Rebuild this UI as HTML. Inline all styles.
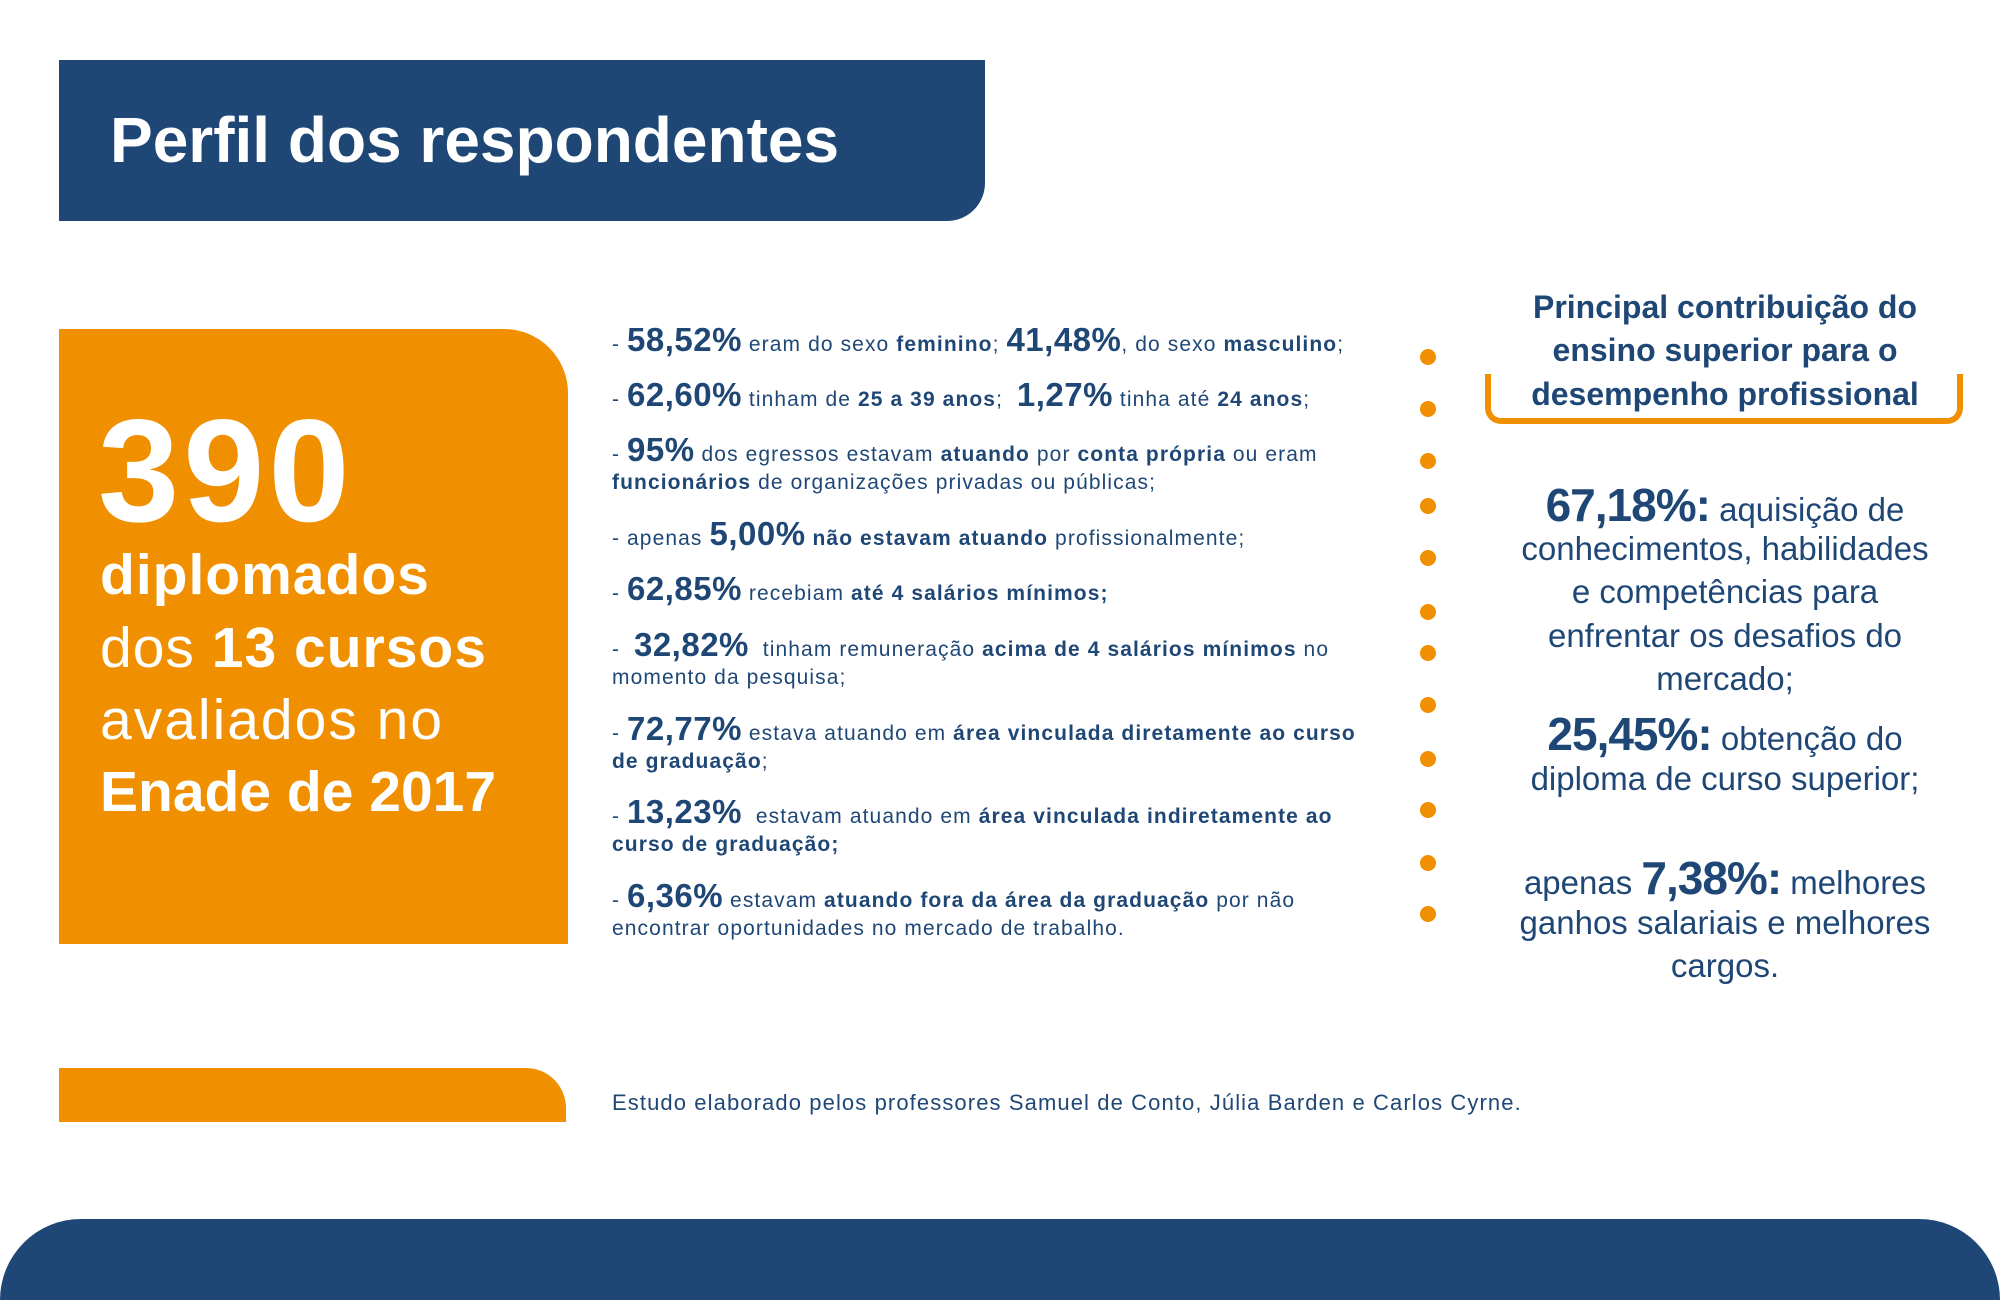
<!DOCTYPE html>
<html><head><meta charset="utf-8"><style>
*{margin:0;padding:0;box-sizing:border-box}
html,body{width:2000px;height:1300px;overflow:hidden}
body{position:relative;background:#fff;font-family:"Liberation Sans",sans-serif;color:#1f4776}
.a{position:absolute;white-space:nowrap}
.l{font-size:33px;line-height:33px;left:612px}
.l .s{font-size:21px;letter-spacing:1.1px}
.l b{font-weight:bold}
.l .p{font-size:33px;font-weight:bold;letter-spacing:0.5px}
.dot{position:absolute;width:16px;height:16px;border-radius:50%;background:#f08f00;left:1420px}
.r{position:absolute;left:1490px;width:470px;text-align:center;font-size:33px;line-height:33px;white-space:nowrap}
.r .p{font-size:46px;font-weight:bold;letter-spacing:-1px}
</style></head><body>
<div class="a" style="left:59px;top:60px;width:926px;height:161px;background:#1f4776;border-bottom-right-radius:38px"></div>
<div class="a" style="left:110px;top:108px;font-size:64px;font-weight:bold;color:#fff;line-height:64px">Perfil dos respondentes</div>

<div class="a" style="left:59px;top:329px;width:509px;height:615px;background:#f08f00;border-top-right-radius:64px"></div>
<div class="a" style="left:98px;top:398px;font-size:146px;font-weight:bold;color:#fff;line-height:146px;letter-spacing:4px">390</div>
<div class="a" style="left:100px;top:547px;font-size:57px;color:#fff;line-height:57px;font-weight:bold;letter-spacing:1px">diplomados</div>
<div class="a" style="left:100px;top:620px;font-size:57px;color:#fff;line-height:57px;letter-spacing:1px">dos <b>13 cursos</b></div>
<div class="a" style="left:100px;top:692px;font-size:57px;color:#fff;line-height:57px;letter-spacing:2px">avaliados no</div>
<div class="a" style="left:100px;top:764px;font-size:57px;color:#fff;line-height:57px;font-weight:bold">Enade de 2017</div>

<div class="a l" style="top:323px"><span class="s">- </span><span class="p">58,52%</span><span class="s"> eram do sexo <b>feminino</b>; </span><span class="p">41,48%</span><span class="s">, do sexo <b>masculino</b>;</span></div>
<div class="a l" style="top:378px"><span class="s">- </span><span class="p">62,60%</span><span class="s"> tinham de <b>25 a 39 anos</b>;&nbsp; </span><span class="p">1,27%</span><span class="s"> tinha até <b>24 anos</b>;</span></div>
<div class="a l" style="top:433px"><span class="s">- </span><span class="p">95%</span><span class="s"> dos egressos estavam <b>atuando</b> por <b>conta própria</b> ou eram</span></div>
<div class="a l" style="top:461px"><span class="s"><b>funcionários</b> de organizações privadas ou públicas;</span></div>
<div class="a l" style="top:517px"><span class="s">- apenas </span><span class="p">5,00%</span><span class="s"> <b>não estavam atuando</b> profissionalmente;</span></div>
<div class="a l" style="top:572px"><span class="s">- </span><span class="p">62,85%</span><span class="s"> recebiam <b>até 4 salários mínimos;</b></span></div>
<div class="a l" style="top:628px"><span class="s">-&nbsp; </span><span class="p">32,82%</span><span class="s">&nbsp; tinham remuneração <b>acima de 4 salários mínimos</b> no</span></div>
<div class="a l" style="top:656px"><span class="s">momento da pesquisa;</span></div>
<div class="a l" style="top:712px"><span class="s">- </span><span class="p">72,77%</span><span class="s"> estava atuando em <b>área vinculada diretamente ao curso</b></span></div>
<div class="a l" style="top:740px"><span class="s"><b>de graduação</b>;</span></div>
<div class="a l" style="top:795px"><span class="s">- </span><span class="p">13,23%</span><span class="s">&nbsp; estavam atuando em <b>área vinculada indiretamente ao</b></span></div>
<div class="a l" style="top:823px"><span class="s"><b>curso de graduação;</b></span></div>
<div class="a l" style="top:879px"><span class="s">- </span><span class="p">6,36%</span><span class="s"> estavam <b>atuando fora da área da graduação</b> por não</span></div>
<div class="a l" style="top:907px"><span class="s">encontrar oportunidades no mercado de trabalho.</span></div>

<div class="dot" style="top:349px"></div><div class="dot" style="top:401px"></div><div class="dot" style="top:453px"></div><div class="dot" style="top:498px"></div><div class="dot" style="top:550px"></div><div class="dot" style="top:604px"></div><div class="dot" style="top:645px"></div><div class="dot" style="top:697px"></div><div class="dot" style="top:751px"></div><div class="dot" style="top:802px"></div><div class="dot" style="top:855px"></div><div class="dot" style="top:906px"></div>

<div class="r" style="top:291px;font-weight:bold;font-size:32px">Principal contribuição do</div>
<div class="r" style="top:334px;font-weight:bold;font-size:32px">ensino superior para o</div>
<div class="r" style="top:378px;font-weight:bold;font-size:32px">desempenho profissional</div>
<div class="a" style="left:1485px;top:374px;width:478px;height:50px;border:6px solid #f08f00;border-top:none;border-radius:0 0 16px 16px"></div>

<div class="r" style="top:489px"><span class="p">67,18%:</span> aquisição de</div>
<div class="r" style="top:532px">conhecimentos, habilidades</div>
<div class="r" style="top:575px">e competências para</div>
<div class="r" style="top:619px">enfrentar os desafios do</div>
<div class="r" style="top:662px">mercado;</div>
<div class="r" style="top:718px"><span class="p">25,45%:</span> obtenção do</div>
<div class="r" style="top:762px">diploma de curso superior;</div>
<div class="r" style="top:862px">apenas <span class="p">7,38%:</span> melhores</div>
<div class="r" style="top:906px">ganhos salariais e melhores</div>
<div class="r" style="top:949px">cargos.</div>

<div class="a" style="left:59px;top:1068px;width:507px;height:54px;background:#f08f00;border-top-right-radius:40px"></div>
<div class="a" style="left:612px;top:1092px;font-size:22px;letter-spacing:1.1px;line-height:22px">Estudo elaborado pelos professores Samuel de Conto, Júlia Barden e Carlos Cyrne.</div>

<div class="a" style="left:0;top:1219px;width:2000px;height:81px;background:#1f4776;border-radius:100px 100px 0 0"></div>
</body></html>
